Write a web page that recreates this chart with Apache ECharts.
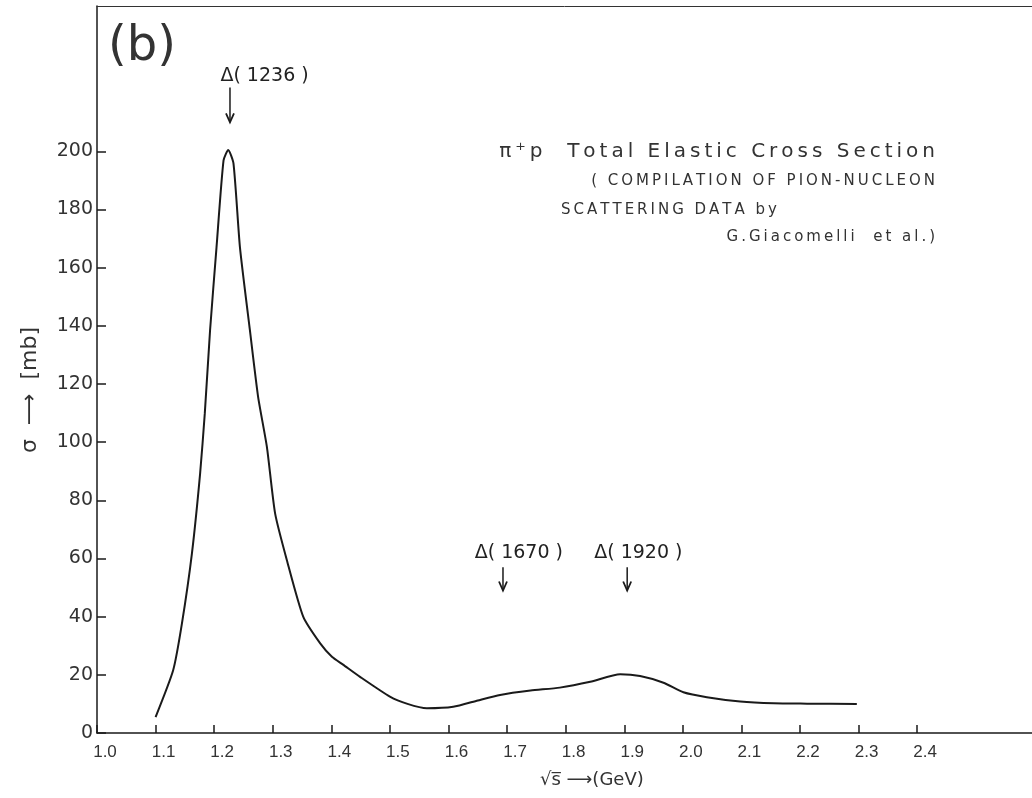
<!DOCTYPE html>
<html>
<head>
<meta charset="utf-8">
<script src="https://cdn.jsdelivr.net/npm/echarts@6/dist/echarts.min.js"></script>
<style>
  html, body { margin: 0; padding: 0; background: #fff; }
  #chart { width: 1032px; height: 798px; }
</style>
</head>
<body>
<div id="chart"></div>
<script>
// sqrt(s) in GeV
const sqrtS = [1.100, 1.130, 1.145, 1.162, 1.176, 1.184, 1.193, 1.204, 1.216, 1.224,
  1.233, 1.244, 1.261, 1.275, 1.290, 1.304, 1.324, 1.352, 1.381, 1.401, 1.420,
  1.449, 1.500, 1.530, 1.563, 1.608, 1.650, 1.688, 1.740, 1.790, 1.842, 1.893,
  1.927, 1.967, 2.001, 2.041, 2.098, 2.155, 2.212, 2.297];
// sigma in mb
const sigma = [5.5, 21.6, 37.7, 61.7, 89.2, 109.9, 138.5, 167, 196.9, 200.5,
  195.8, 167, 138.5, 115.6, 98.4, 75.5, 59.5, 40.0, 30.8, 26.2, 23.5,
  19.3, 12.5, 10.0, 8.5, 9.0, 11.2, 13.1, 14.6, 15.6, 17.6, 20.2,
  19.6, 17.3, 14.0, 12.3, 10.8, 10.2, 10.1, 10.0];

const xTicks = [1.0, 1.1, 1.2, 1.3, 1.4, 1.5, 1.6, 1.7, 1.8, 1.9, 2.0, 2.1, 2.2, 2.3, 2.4];
const yTicks = [0, 20, 40, 60, 80, 100, 120, 140, 160, 180, 200];

// resonance markers: label, arrow position (GeV), label centre (GeV), label / arrow heights (mb)
const resonances = ['Δ( 1236 )', 'Δ( 1670 )', 'Δ( 1920 )'];
const arrowAt = [1.227, 1.693, 1.905];
const labelAt = [1.286, 1.720, 1.924];
const labelY = [226, 62, 62];
const arrowTop = [222, 57, 57];
const arrowEnd = [210, 49, 49];

const ink = '#1a1a1a';
// the typewritten notes on the plot are letter-spaced
const spaced = s => s.split('').join('\u2009');

const chart = echarts.init(document.getElementById('chart'));

const option = {
  backgroundColor: '#fff',
  animation: false,
  grid: { left: 97, right: 0, top: 6, bottom: 65 },
  xAxis: [{
    type: 'value',
    min: 1.0,
    max: 2.596,
    interval: 0.1,
    splitLine: { show: false },
    axisLine: { lineStyle: { color: ink, width: 1.5 } },
    axisTick: { inside: true, length: 8, customValues: xTicks, lineStyle: { color: ink, width: 1.5 } },
    axisLabel: {
      customValues: xTicks,
      formatter: v => v.toFixed(1),
      fontFamily: 'Liberation Sans',
      fontSize: 17,
      color: '#333',
      margin: 11,
      padding: [0, 0, 0, 16]
    }
  }, {
    type: 'value',
    position: 'top',
    min: 1.0,
    max: 2.596,
    splitLine: { show: false },
    axisLine: { show: true, lineStyle: { color: '#333', width: 1 } },
    axisTick: { show: false },
    axisLabel: { show: false }
  }],
  yAxis: {
    type: 'value',
    min: 0,
    max: 250,
    interval: 20,
    splitLine: { show: false },
    axisLine: { lineStyle: { color: ink, width: 1.5 } },
    axisTick: { inside: true, length: 9, customValues: yTicks, lineStyle: { color: ink, width: 1.5 } },
    axisLabel: {
      customValues: yTicks,
      fontFamily: 'DejaVu Sans',
      fontSize: 19,
      color: '#333',
      margin: 4
    }
  },
  series: [{
    type: 'line',
    xAxisIndex: 0,
    data: sqrtS.map((x, i) => [x, sigma[i]]),
    showSymbol: false,
    smooth: 0.2,
    lineStyle: { color: ink, width: 2 }
  }]
};
chart.setOption(option);

// annotations placed from data coordinates
const toPx = p => chart.convertToPixel({ xAxisIndex: 0, yAxisIndex: 0 }, p);
const graphics = [];
resonances.forEach((name, i) => {
  const lp = toPx([labelAt[i], labelY[i]]);
  const a0 = toPx([arrowAt[i], arrowTop[i]]);
  const a1 = toPx([arrowAt[i], arrowEnd[i]]);
  graphics.push({
    type: 'text',
    x: lp[0], y: lp[1],
    style: { text: name, font: '19px "DejaVu Sans"', fill: '#222', align: 'center', verticalAlign: 'middle' }
  });
  graphics.push({
    type: 'line',
    shape: { x1: a0[0], y1: a0[1], x2: a1[0], y2: a1[1] },
    style: { stroke: ink, lineWidth: 1.5 }
  });
  graphics.push({
    type: 'polyline',
    shape: { points: [[a1[0] - 4, a1[1] - 9], [a1[0], a1[1]], [a1[0] + 4, a1[1] - 9]] },
    style: { stroke: ink, lineWidth: 1.8, fill: null }
  });
});

graphics.push(
  { type: 'text', x: 142, y: 48,
    style: { text: '(b)', font: '48px "DejaVu Sans"', fill: '#333', align: 'center', verticalAlign: 'middle' } },
  { type: 'text', x: 935, y: 152,
    style: { text: spaced('π⁺p  Total Elastic Cross Section'), font: '20px "DejaVu Sans"', fill: '#333', align: 'right', verticalAlign: 'middle' } },
  { type: 'text', x: 935, y: 181,
    style: { text: spaced('( COMPILATION OF PION-NUCLEON'), font: '15px "DejaVu Sans"', fill: '#333', align: 'right', verticalAlign: 'middle' } },
  { type: 'text', x: 669, y: 210,
    style: { text: spaced('SCATTERING DATA by'), font: '15px "DejaVu Sans"', fill: '#333', align: 'center', verticalAlign: 'middle' } },
  { type: 'text', x: 935, y: 237,
    style: { text: spaced('G.Giacomelli  et al.)'), font: '15px "DejaVu Sans"', fill: '#333', align: 'right', verticalAlign: 'middle' } },
  { type: 'text', x: 30, y: 390, rotation: Math.PI / 2,
    style: { text: 'σ  ⟶  [mb]', font: '22px "DejaVu Sans"', fill: '#333', align: 'center', verticalAlign: 'middle' } },
  { type: 'text', x: 540, y: 780,
    style: { text: '√s̅ ⟶(GeV)', font: '18px "DejaVu Sans"', fill: '#333', align: 'left', verticalAlign: 'middle' } }
);
chart.setOption({ graphic: graphics });
</script>
</body>
</html>
